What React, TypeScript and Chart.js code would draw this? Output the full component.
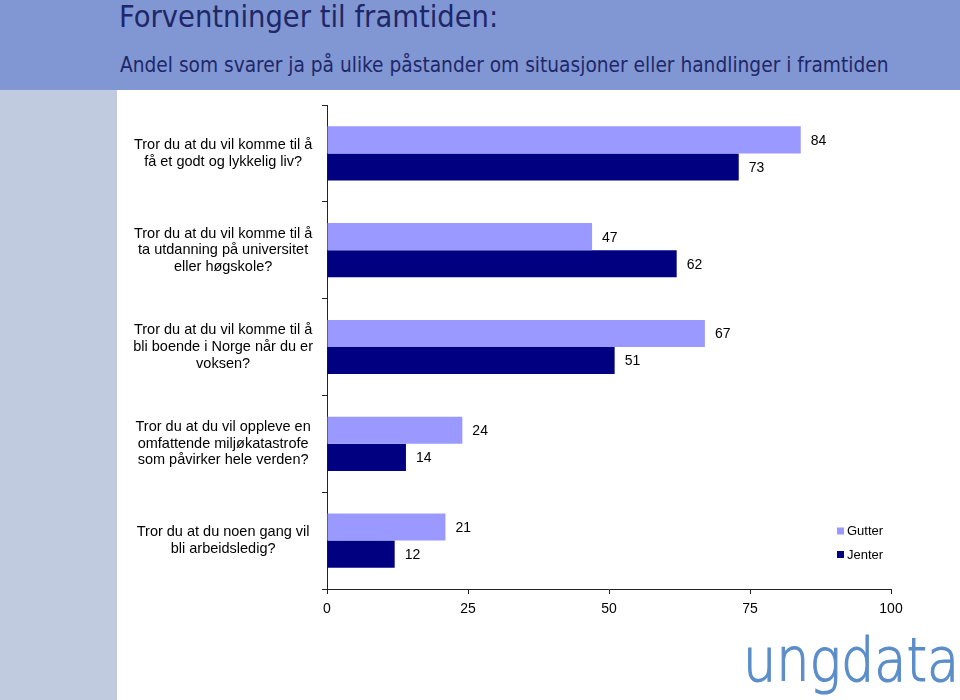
import React, { useEffect, useRef } from "react";
import { Chart, registerables } from "chart.js";

Chart.register(...registerables);

const categories: string[][] = [
  ["Tror du at du vil komme til å", "få et godt og lykkelig liv?"],
  ["Tror du at du vil komme til å", "ta utdanning på universitet", "eller høgskole?"],
  ["Tror du at du vil komme til å", "bli boende i Norge når du er", "voksen?"],
  ["Tror du at du vil oppleve en", "omfattende miljøkatastrofe", "som påvirker hele verden?"],
  ["Tror du at du noen gang vil", "bli arbeidsledig?"],
];
const gutter: number[] = [84, 47, 67, 24, 21];
const jenter: number[] = [73, 62, 51, 14, 12];
const seriesNames: string[] = ["Gutter", "Jenter"];
const xTicks: number[] = [0, 25, 50, 75, 100];

const GUTTER_COLOR = "#9999ff";
const JENTER_COLOR = "#000080";
const FONT = "'Liberation Sans', Arial, sans-serif";

const valueLabels = {
  id: "valueLabels",
  afterDatasetsDraw(chart: any) {
    const ctx = chart.ctx;
    ctx.save();
    ctx.font = `14px ${FONT}`;
    ctx.fillStyle = "#000";
    ctx.textAlign = "left";
    ctx.textBaseline = "middle";
    chart.data.datasets.forEach((ds: any, i: number) => {
      const meta = chart.getDatasetMeta(i);
      meta.data.forEach((el: any, j: number) => {
        ctx.fillText(String(ds.data[j]), el.x + 10, el.y + 1);
      });
    });
    ctx.restore();
  },
};

const customLegend = {
  id: "customLegend",
  afterDraw(chart: any) {
    const ctx = chart.ctx;
    ctx.save();
    ctx.font = `13px ${FONT}`;
    ctx.textAlign = "left";
    ctx.textBaseline = "middle";
    chart.data.datasets.forEach((ds: any, i: number) => {
      const y = 531 + i * 23.5;
      ctx.fillStyle = ds.backgroundColor;
      ctx.fillRect(837, y - 3.5, 7, 7);
      ctx.fillStyle = "#000";
      ctx.fillText(ds.label, 847, y + 0.5);
    });
    ctx.restore();
  },
};

export default function App() {
  const ref = useRef<HTMLCanvasElement | null>(null);
  useEffect(() => {
    if (!ref.current) return;
    const chart = new Chart(ref.current, {
      type: "bar",
      data: {
        labels: categories,
        datasets: [
          { label: seriesNames[0], data: gutter, backgroundColor: GUTTER_COLOR, borderWidth: 0 },
          { label: seriesNames[1], data: jenter, backgroundColor: JENTER_COLOR, borderWidth: 0 },
        ],
      },
      options: {
        indexAxis: "y",
        responsive: false,
        animation: false,
        maintainAspectRatio: false,
        layout: { padding: { top: 105, right: 69, bottom: 0, left: 0 } },
        datasets: { bar: { categoryPercentage: 0.56, barPercentage: 1.0 } },
        plugins: {
          legend: { display: false },
          tooltip: { enabled: false },
          title: { display: false },
        },
        scales: {
          x: {
            type: "linear",
            min: 0,
            max: 100,
            afterBuildTicks: (scale: any) => {
              scale.ticks = xTicks.map((v) => ({ value: v }));
            },
            afterFit: (scale: any) => {
              scale.height = 111;
            },
            grid: {
              display: true,
              drawOnChartArea: false,
              drawTicks: true,
              tickLength: 5,
              color: "#222",
              lineWidth: 1,
            },
            border: { display: true, color: "#222", width: 1 },
            ticks: {
              padding: 7,
              color: "#000",
              font: { family: FONT, size: 14 },
              maxRotation: 0,
            },
          },
          y: {
            type: "category",
            afterFit: (scale: any) => {
              scale.width = 327;
            },
            grid: {
              display: true,
              drawOnChartArea: false,
              drawTicks: true,
              tickLength: 5,
              offset: true,
              color: "#222",
              lineWidth: 1,
            },
            border: { display: true, color: "#222", width: 1 },
            ticks: {
              crossAlign: "center",
              padding: 9,
              color: "#000",
              font: { family: FONT, size: 14.5, lineHeight: 1.15 },
            },
          },
        },
      },
      plugins: [valueLabels, customLegend],
    });
    return () => chart.destroy();
  }, []);

  return (
    <div
      style={{
        position: "absolute",
        left: 0,
        top: 0,
        width: 960,
        height: 700,
        overflow: "hidden",
        background: "#ffffff",
      }}
    >
      <div
        style={{
          position: "absolute",
          left: 0,
          top: 0,
          width: 960,
          height: 90,
          background: "#8197d3",
        }}
      />
      <div
        style={{
          position: "absolute",
          left: 0,
          top: 90,
          width: 117,
          height: 610,
          background: "#c1cbdf",
        }}
      />
      <div
        style={{
          position: "absolute",
          left: 119,
          top: 0,
          fontFamily: "'DejaVu Sans Condensed', 'DejaVu Sans', sans-serif",
          fontSize: 30.5,
          color: "#1f2768",
          whiteSpace: "nowrap",
          lineHeight: "34px",
        }}
      >
        Forventninger til framtiden:
      </div>
      <div
        style={{
          position: "absolute",
          left: 120,
          top: 51,
          fontFamily: "'DejaVu Sans Condensed', 'DejaVu Sans', sans-serif",
          fontSize: 20.7,
          color: "#1f2768",
          whiteSpace: "nowrap",
          lineHeight: "28px",
        }}
      >
        Andel som svarer ja på ulike påstander om situasjoner eller handlinger i framtiden
      </div>
      <div
        style={{
          position: "absolute",
          left: 743,
          top: 620,
          fontFamily: "'DejaVu Sans', sans-serif",
          fontWeight: 200,
          fontSize: 61,
          color: "#5b8dc9",
          whiteSpace: "nowrap",
          lineHeight: "80px",
          transform: "scaleX(0.86)",
          transformOrigin: "left top",
          WebkitTextStroke: "1.2px #5b8dc9",
        }}
      >
        ungdata
      </div>
      <canvas
        ref={ref}
        width={960}
        height={700}
        style={{ position: "absolute", left: 0, top: 0, width: 960, height: 700 }}
      />
    </div>
  );
}
